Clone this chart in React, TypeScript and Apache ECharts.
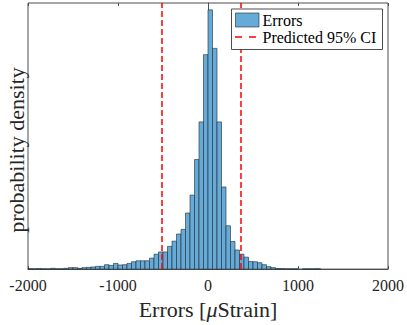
import React, { useEffect, useRef } from "react";
import * as echarts from "echarts";

// Histogram: bins of width 50 starting at -2000
const binStart = -2000;
const binWidth = 50;
const binCounts = [
  5, 2, 5, 2, 1, 8, 2, 2, 8, 15, 15, 8, 15, 18, 22, 28, 28, 45, 38, 58,
  42, 45, 58, 75, 85, 85, 85, 112, 152, 175, 175, 232, 285, 358, 405, 572, 755, 1118, 1502, 2188,
  2645, 2252, 1502, 838, 442, 282, 195, 152, 122, 78, 75, 65, 45, 25, 15, 5, 5, 2, 2, 2,
  0, 2, 2, 2, 3, 0, 0, 0, 0, 0, 0, 0, 0, 0, 0, 0, 0, 0, 0, 0,
];
const ciBounds = [-515, 365];
const xTicks = [-2000, -1000, 0, 1000, 2000];
const yTopCount = 2715; // count level at the top of the plot box
const seriesNames = ["Errors", "Predicted 95% CI"];
const yTitle = "probability density";

const FONT = "Liberation Serif";
const AXIS = "#4d4d4d";
const TEXT = "#262626";

export default function App() {
  const ref = useRef<HTMLDivElement>(null);
  useEffect(() => {
    if (!ref.current) return;
    const chart = echarts.init(ref.current, undefined, { renderer: "svg" });
    const total = binCounts.reduce((a, b) => a + b, 0);
    const norm = total * binWidth;
    const data = binCounts
      .map((c, i) => [binStart + i * binWidth, binStart + (i + 1) * binWidth, c / norm])
      .filter((d) => d[2] > 0);
    const yMax = yTopCount / norm;

    const xMin = xTicks[0];
    const xMax = xTicks[xTicks.length - 1];
    const interval = xTicks[1] - xTicks[0];

    chart.setOption({
      animation: false,
      textStyle: { fontFamily: FONT },
      grid: {
        left: 28,
        right: 18.5,
        top: 3,
        bottom: 50.5,
        show: true,
        borderColor: AXIS,
        borderWidth: 1,
        backgroundColor: "transparent",
      },
      xAxis: [
        {
          type: "value",
          min: xMin,
          max: xMax,
          interval,
          position: "bottom",
          axisLine: { show: true, lineStyle: { color: AXIS, width: 1 } },
          axisTick: { show: true, inside: true, length: 3, lineStyle: { color: AXIS } },
          splitLine: { show: false },
          axisLabel: {
            show: true,
            margin: 8,
            fontFamily: FONT,
            fontSize: 16,
            color: TEXT,
            formatter: (v: number) => "{t|" + String(v) + "}",
            rich: { t: { fontFamily: FONT, fontSize: 16, color: TEXT } },
          },
          name: "Errors [{i|μ}Strain]",
          nameLocation: "middle",
          nameGap: 23,
          nameTextStyle: {
            fontFamily: FONT,
            fontSize: 22,
            color: TEXT,
            rich: {
              i: { fontFamily: FONT, fontSize: 22, fontStyle: "italic", color: TEXT },
            },
          },
        },
        {
          type: "value",
          min: xMin,
          max: xMax,
          interval,
          position: "top",
          axisLine: { show: false },
          axisTick: { show: true, inside: true, length: 3, lineStyle: { color: AXIS } },
          axisLabel: { show: false },
          splitLine: { show: false },
        },
      ],
      yAxis: {
        type: "value",
        min: 0,
        max: yMax,
        axisLine: { show: true, lineStyle: { color: AXIS, width: 1 } },
        axisTick: { show: false },
        axisLabel: { show: false },
        splitLine: { show: false },
      },
      series: [
        {
          name: seriesNames[0],
          type: "custom",
          xAxisIndex: 0,
          yAxisIndex: 0,
          encode: { x: [0, 1], y: 2 },
          data,
          renderItem: (params: any, api: any) => {
            const x0 = api.value(0);
            const x1 = api.value(1);
            const y = api.value(2);
            const p0 = api.coord([x0, y]);
            const p1 = api.coord([x1, 0]);
            return {
              type: "rect",
              shape: { x: p0[0], y: p0[1], width: p1[0] - p0[0], height: p1[1] - p0[1] },
              style: { fill: "#66aad7", stroke: "#1e2a33", lineWidth: 0.6 },
            };
          },
        },
        {
          name: seriesNames[1],
          type: "line",
          data: [],
          markLine: {
            silent: true,
            symbol: ["none", "none"],
            label: { show: false },
            lineStyle: { color: "#ff0000", type: [6, 3], width: 1.5, opacity: 1 },
            emphasis: { disabled: true },
            data: ciBounds.map((v) => ({ xAxis: v })),
          },
        },
      ],
      graphic: [
        {
          type: "text",
          x: 16,
          y: 150,
          rotation: Math.PI / 2,
          style: {
            text: yTitle,
            fontFamily: FONT,
            fontSize: 22,
            fill: TEXT,
            align: "center",
            verticalAlign: "middle",
          },
        },
        {
          type: "rect",
          shape: { x: 231.5, y: 9, width: 151, height: 40.5 },
          style: { fill: "#ffffff", stroke: AXIS, lineWidth: 1 },
          z: 100,
        },
        {
          type: "rect",
          shape: { x: 235.5, y: 13, width: 23.5, height: 14 },
          style: { fill: "#66aad7", stroke: "#1e2a33", lineWidth: 0.6 },
          z: 101,
        },
        {
          type: "line",
          shape: { x1: 235, y1: 37, x2: 257, y2: 37 },
          style: { stroke: "#ff0000", lineWidth: 1.5, lineDash: [7, 7] },
          z: 101,
        },
        {
          type: "text",
          x: 262.5,
          y: 20,
          style: {
            text: seriesNames[0],
            fontFamily: FONT,
            fontSize: 16,
            fill: "#000000",
            verticalAlign: "middle",
            align: "left",
          },
          z: 101,
        },
        {
          type: "text",
          x: 262.5,
          y: 37,
          style: {
            text: seriesNames[1],
            fontFamily: FONT,
            fontSize: 16,
            fill: "#000000",
            verticalAlign: "middle",
            align: "left",
          },
          z: 101,
        },
      ],
    });
    return () => chart.dispose();
  }, []);
  return (
    <div
      ref={ref}
      style={{ position: "fixed", left: 0, top: 0, width: 407, height: 325, background: "#fff" }}
    />
  );
}
